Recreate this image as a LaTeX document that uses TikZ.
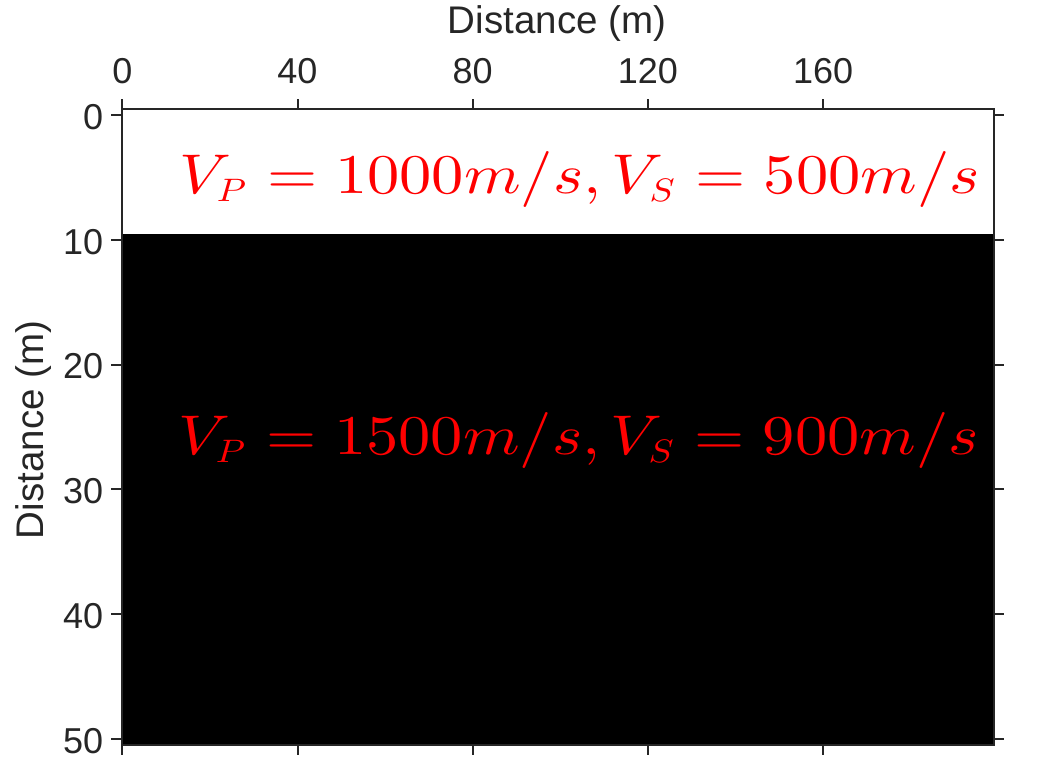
\documentclass[tikz,border=0pt]{standalone}
\usepackage{graphicx}
\usepackage[no-math]{fontspec}
\newfontfamily\arial{Liberation Sans}
\definecolor{axgray}{HTML}{262626}
\newcommand\smallsub[1]{_{\scalebox{0.58}{$#1$}}}
\begin{document}
\begin{tikzpicture}[x=1pt,y=-1pt,
  ticklab/.style={font=\arial\fontsize{36}{40}\selectfont, text=axgray, inner sep=0pt},
  axlab/.style={font=\arial\fontsize{38.5}{42}\selectfont, text=axgray, inner sep=0pt},
  vlab/.style={text=red, inner sep=0pt, anchor=base west},
  tickline/.style={draw=axgray, line width=2pt}]
\useasboundingbox (0,0) rectangle (1040,770);
% layers
\fill[white] (121.7,108.8) rectangle (994,233.6);
\fill[black] (121.7,233.6) rectangle (994,745.2);
% frame
\draw[draw=axgray, line width=2pt] (121.7,108.8) rectangle (994,745.2);
% x ticks (top and bottom)
\foreach \xv/\lab in {122.3/0,297.5/40,472.7/80,647.9/120,823.1/160}{
  \draw[tickline] (\xv,108.8) -- (\xv,99.5);
  \draw[tickline] (\xv,745.2) -- (\xv,754.5);
  \node[ticklab, anchor=base] (xt\lab) at (\xv,83.3) {\lab};
}
% y ticks (left and right)
\foreach \yv/\lab in {115/0,239.8/10,364.6/20,489.4/30,614.2/40,739/50}{
  \draw[tickline] (121.7,\yv) -- (110.5,\yv);
  \draw[tickline] (994,\yv) -- (1004,\yv);
  \node[ticklab, anchor=base east] (yt\lab) at (103.3,\yv+14.3) {\lab};
}
% axis labels
\node[axlab, anchor=base] (xlabel) at (557,33.3) {Distance (m)};
\node[axlab, anchor=base, rotate=90] (ylabel) at (43,430) {Distance (m)};
% layer labels
\node[vlab] (top) at (179,193.3) {\scalebox{6.45}[5.6]{$V\smallsub{P}=1000m/s,V\smallsub{S}=500m/s$}};
\node[vlab] (bot) at (178,454) {\scalebox{6.45}[5.6]{$V\smallsub{P}=1500m/s,V\smallsub{S}=900m/s$}};
\end{tikzpicture}
\end{document}
